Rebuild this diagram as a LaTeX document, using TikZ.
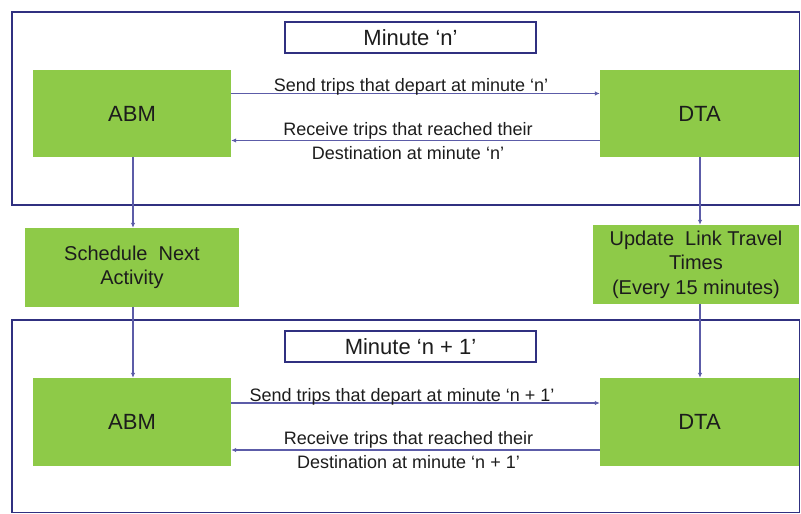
\documentclass[tikz,border=0pt]{standalone}
\usepackage{fontspec}
\setmainfont{Liberation Sans}
\usetikzlibrary{arrows.meta}
\definecolor{boxgreen}{RGB}{142,202,72}
\definecolor{frameblue}{RGB}{48,48,128}
\definecolor{linkblue}{RGB}{92,92,168}
\definecolor{txt}{RGB}{28,28,28}
\begin{document}
\begin{tikzpicture}[x=1pt,y=-1pt,
  greenbox/.style={fill=boxgreen, draw=none, inner sep=0pt, text=txt, align=center, font=\fontsize{20}{24.5}\selectfont},
  bigbox/.style={greenbox, font=\fontsize{22}{26}\selectfont},
  frame/.style={draw=frameblue, line width=1.8pt},
  titlebox/.style={draw=frameblue, line width=2.2pt, fill=white, inner sep=0pt, minimum width=251pt, minimum height=31pt, text=txt, font=\fontsize{22}{26}\selectfont},
  link/.style={draw=linkblue, line width=1.1pt},
  arr/.style={link, -{Latex[length=5pt,width=4.5pt]}},
  lbl/.style={text=txt, inner sep=0pt, align=center, font=\fontsize{18}{24}\selectfont}
]
\useasboundingbox (0,0) rectangle (801,514);
% frames
\draw[frame] (12,12) rectangle (799.5,205);
\draw[frame] (12,320) rectangle (799.5,512.5);
% titles
\node[titlebox] (t1) at (410.5,37.5) {Minute ‘n’};
\node[titlebox] (t2) at (410.5,346.5) {Minute ‘n + 1’};
% green boxes
\node[bigbox, minimum width=198pt, minimum height=87pt] (abm1) at (132,113.5) {ABM};
\node[bigbox, minimum width=199pt, minimum height=87pt] (dta1) at (699.5,113.5) {DTA};
\node[greenbox, minimum width=214pt, minimum height=79pt] (sched) at (132,267.5) {Schedule\ \ Next\\Activity};
\node[greenbox, minimum width=206pt, minimum height=79pt] (upd) at (696,264.5) {Update\ \ Link Travel\\Times\\(Every 15 minutes)};
\node[bigbox, minimum width=198pt, minimum height=88pt] (abm2) at (132,422) {ABM};
\node[bigbox, minimum width=199pt, minimum height=88pt] (dta2) at (699.5,422) {DTA};
% horizontal connectors, minute n
\coordinate (s1) at (0,93.5);
\coordinate (r1) at (0,140.5);
\draw[arr] (abm1.east |- s1) -- (dta1.west |- s1);
\draw[arr] (dta1.west |- r1) -- (abm1.east |- r1);
\node[lbl, anchor=base] (ls1) at (411,91) {Send trips that depart at minute ‘n’};
\node[lbl, anchor=north] (lr1) at (408,122) {Receive trips that reached their\\Destination at minute ‘n’};
% horizontal connectors, minute n+1
\coordinate (s2) at (0,403);
\coordinate (r2) at (0,450);
\draw[arr] (abm2.east |- s2) -- (dta2.west |- s2);
\draw[arr] (dta2.west |- r2) -- (abm2.east |- r2);
\node[lbl, anchor=base] (ls2) at (402,401) {Send trips that depart at minute ‘n + 1’};
\node[lbl, anchor=north] (lr2) at (408.5,431) {Receive trips that reached their\\Destination at minute ‘n + 1’};
% vertical connectors
\draw[arr] (abm1.south -| 133,0) -- (sched.north -| 133,0);
\draw[arr] (sched.south -| 133,0) -- (abm2.north -| 133,0);
\draw[arr] (dta1.south -| 700,0) -- (upd.north -| 700,0);
\draw[arr] (upd.south -| 700,0) -- (dta2.north -| 700,0);
\end{tikzpicture}
\end{document}
